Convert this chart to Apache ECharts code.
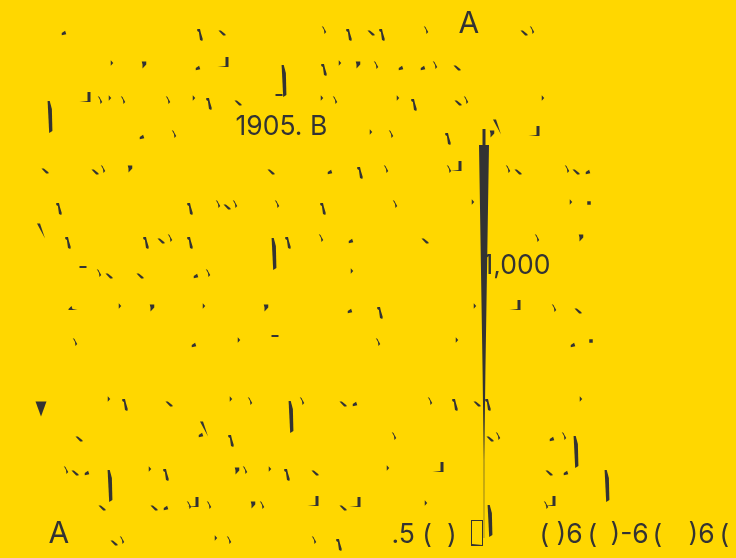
<!DOCTYPE html>
<html><head><meta charset="utf-8">
<style>html,body{margin:0;padding:0;background:#FFD700}#c{width:736px;height:558px}</style>
<script src="https://cdn.jsdelivr.net/npm/echarts@6/dist/echarts.min.js"></script>
</head><body><div id="c"></div>
<script>
var labelTexts = ["A", "1905. B", "1,000", "A", ".5 (  )", "( )6", "(", ")-6", "(", ")6", "("];
var labelSizes = [30, 26.5, 26.5, 30, 26.5, 26.5, 26.5, 26.5, 26.5, 26.5, 26.5];
var labelPoints = [[458,24],[235,127],[482,266],[48,534],[391,535],[539,535],[587,535],[610,535],[652,535],[688,535],[719,535]];
var spikePoint = [[484,341.5]];
var tabPoint = [[484,137]];
var trianglePoint = [[41,409]];
var boxPoint = [[477,533]];
var dotPoints = [[64,33],[198,68],[142,137],[330,172],[401,68],[423,68],[588,172],[351,241],[196,276],[350,311],[194,345],[573,345],[355,404],[87,473],[166,508],[552,439],[566,473],[201,435]];
var squarePoints = [[589,203],[591,341]];
var slantPoints = [[200,35],[349,35],[324,70],[209,104],[360,173],[382,35],[414,105],[448,139],[59,209],[190,209],[323,209],[68,243],[146,243],[190,243],[288,243],[380,313],[125,405],[231,441],[166,475],[287,475],[339,545],[455,405],[488,405]];
var hookPoints = [[324,30],[100,100],[123,100],[168,100],[335,100],[174,134],[103,169],[426,30],[532,30],[376,65],[435,65],[466,100],[391,134],[386,169],[508,169],[567,169],[218,204],[235,204],[277,204],[170,238],[321,238],[99,273],[208,273],[75,342],[395,204],[537,238],[554,308],[378,342],[250,401],[302,401],[66,470],[245,470],[209,505],[262,505],[122,540],[229,540],[314,540],[430,401],[394,436],[498,436],[564,436],[449,169],[546,505],[189,505]];
var tickPoints = [[112,63],[340,63],[110,98],[194,98],[322,98],[398,98],[543,98],[371,132],[120,306],[204,306],[352,271],[239,340],[473,202],[571,202],[475,306],[457,340],[109,399],[231,399],[150,469],[270,469],[216,538],[581,399],[388,468],[426,503]];
var skewPoints = [[222,33],[238,103],[45,171],[95,172],[271,172],[371,33],[524,33],[457,68],[458,103],[518,172],[576,172],[227,207],[161,241],[109,276],[140,276],[425,241],[578,311],[169,404],[343,404],[79,439],[75,473],[315,473],[102,508],[154,508],[343,508],[114,543],[477,404],[490,439],[549,473]];
var commaPoints = [[144,65],[358,65],[130,169],[492,134],[152,308],[266,308],[581,238],[237,471],[253,505]];
var cornerPoints = [[223,62],[85,97],[534,131],[456,166],[515,305],[193,502],[313,501],[355,502],[438,467],[550,501]];
var barPoints = [[284,81],[50,117],[274,254],[291,417],[110,486],[576,452],[607,486],[490,521]];
var dashPoints = [[279,95],[83,267],[275,336]];
var slashPoints = [[497,127],[41,231],[204,429]];
var footPoints = [[73,308]];

var ink = '#333333';
function marks(points, path, w, h) {
  return {type:'scatter', data:points, symbol:path, symbolSize:[w,h], symbolKeepAspect:false,
    itemStyle:{color:ink, opacity:1}, silent:true, animation:false};
}
var textSeries = {type:'scatter', animation:false, silent:true, symbolSize:1, itemStyle:{color:'rgba(0,0,0,0)', opacity:1}, z:5,
  data: labelPoints.map(function(p,i){return {value:p, label:{show:true, position:'right', distance:0, formatter:labelTexts[i],
    fontFamily:'Inter', fontSize:labelSizes[i], color:ink, opacity:1}};})};
var chart = echarts.init(document.getElementById('c'), null, {renderer:'canvas'});
chart.setOption({
  backgroundColor:'#FFD700',
  animation:false,
  grid:{left:0,right:0,top:0,bottom:0},
  xAxis:{type:'value',min:0,max:736,show:false},
  yAxis:{type:'value',min:0,max:558,inverse:true,show:false},
  series:[
    marks(spikePoint,'path://M0 0L10 0L6.4 227L5.3 315L5.2 393L4.8 393L4.7 315L3.6 227Z',10,393),
    marks(tabPoint,'rect',3,16),
    marks(trianglePoint,'path://M0 0L11 0L5.5 15Z',11,15),
    marks(boxPoint,'path://M0 0H12V26H0ZM1 1V24L11 25ZM1 1L11 25V1Z',12,26),
    marks(dotPoints,'path://M0 2L3 0L4 3L0 4Z',4.5,4.5),
    marks(squarePoints,'rect',3.5,3.5),
    marks(slantPoints,'path://M0 0L3 0L4 4L6 10L5.5 12L3 11L1.8 3L0 2Z',5.5,12),
    marks(hookPoints,'path://M0 0L2 1L3 3L5 6L3 8L2.5 4Z',4.5,8),
    marks(tickPoints,'path://M0 0L2 3L0 6Z',2.5,5.5),
    marks(skewPoints,'path://M0 0L2 0L6 3L6 4L4 4Z',7,5),
    marks(commaPoints,'path://M1 0L4 0L4 3L1.5 7L1.5 3Z',4.5,7),
    marks(cornerPoints,'path://M8 0L11 0L11 10L0 10L8 9Z',11,10),
    marks(barPoints,'path://M0 0L2 0L4 8L4.5 30L1.5 32Z',4.8,32),
    marks(dashPoints,'rect',7,2),
    marks(slashPoints,'path://M0 0L3 0L8 15Z',8,15),
    marks(footPoints,'path://M0 3L3 0L4 3L9 4L0 4Z',9,4),
    textSeries
  ]
});
</script></body></html>
